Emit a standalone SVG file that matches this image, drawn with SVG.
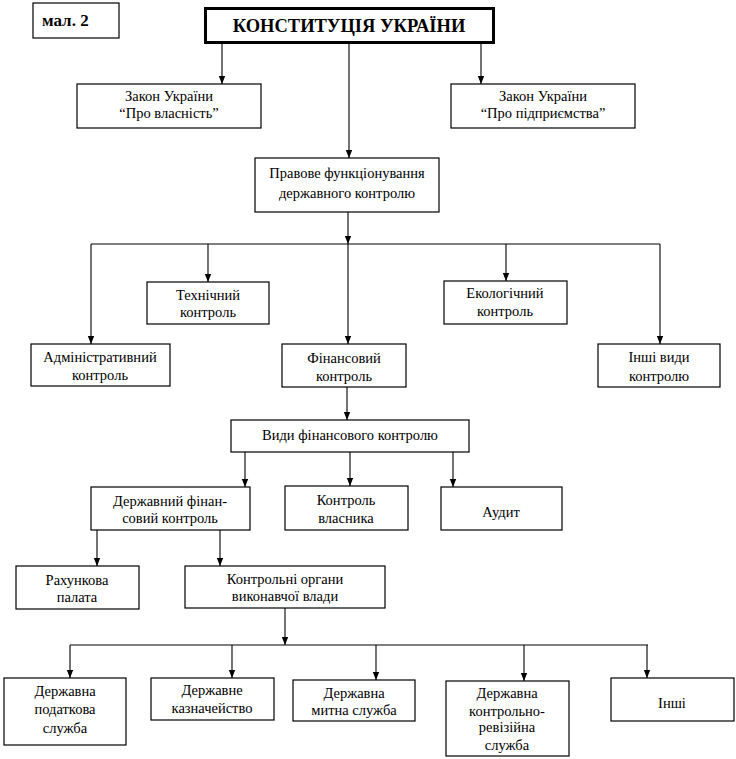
<svg xmlns="http://www.w3.org/2000/svg" width="736" height="759" viewBox="0 0 736 759">
<style>
  .b { fill: #fff; stroke: #000; stroke-width: 1.2; }
  .t { font-family: "Liberation Serif", "Times New Roman", serif; font-size: 14.5px; fill: #000; text-anchor: middle; }
  .c line { stroke: #000; stroke-width: 1.1; }
</style>
<defs>
  <marker id="ah" viewBox="0 0 8 8" refX="8" refY="4" markerWidth="8" markerHeight="8" markerUnits="userSpaceOnUse" orient="auto">
    <path d="M0,0.8 L8,4 L0,7.2 Z" fill="#000"/>
  </marker>
</defs>
<rect width="736" height="759" fill="#fff"/>

<g id="connectors" class="c">
  <line x1="222" y1="43" x2="222" y2="84" marker-end="url(#ah)"/>
  <line x1="349" y1="43" x2="349" y2="158" marker-end="url(#ah)"/>
  <line x1="481" y1="43" x2="481" y2="84" marker-end="url(#ah)"/>
  <line x1="348" y1="212" x2="348" y2="244" marker-end="url(#ah)"/>
  <line x1="91" y1="244" x2="660" y2="244"/>
  <line x1="91" y1="244" x2="91" y2="344" marker-end="url(#ah)"/>
  <line x1="208" y1="244" x2="208" y2="282" marker-end="url(#ah)"/>
  <line x1="348" y1="244" x2="348" y2="344" marker-end="url(#ah)"/>
  <line x1="506" y1="244" x2="506" y2="281" marker-end="url(#ah)"/>
  <line x1="660" y1="244" x2="660" y2="344" marker-end="url(#ah)"/>
  <line x1="347" y1="387" x2="347" y2="420" marker-end="url(#ah)"/>
  <line x1="245" y1="452" x2="245" y2="487" marker-end="url(#ah)"/>
  <line x1="350" y1="452" x2="350" y2="486" marker-end="url(#ah)"/>
  <line x1="453" y1="452" x2="453" y2="487" marker-end="url(#ah)"/>
  <line x1="97" y1="530" x2="97" y2="566" marker-end="url(#ah)"/>
  <line x1="220" y1="530" x2="220" y2="566" marker-end="url(#ah)"/>
  <line x1="285" y1="608" x2="285" y2="645" marker-end="url(#ah)"/>
  <line x1="70" y1="645" x2="648" y2="645"/>
  <line x1="70" y1="645" x2="70" y2="678" marker-end="url(#ah)"/>
  <line x1="232" y1="645" x2="232" y2="678" marker-end="url(#ah)"/>
  <line x1="376" y1="645" x2="376" y2="680" marker-end="url(#ah)"/>
  <line x1="524" y1="645" x2="524" y2="681" marker-end="url(#ah)"/>
  <line x1="647" y1="645" x2="647" y2="678" marker-end="url(#ah)"/>
</g>

<g id="label-mal">
  <rect class="b" x="33" y="3" width="86" height="35"/>
  <text x="42" y="26" style="font-family:'Liberation Serif','Times New Roman',serif;font-size:17px;font-weight:bold">мал. 2</text>
</g>
<g id="n-constitution">
  <rect x="205.5" y="8.5" width="288" height="34" fill="#fff" stroke="#000" stroke-width="3"/>
  <text class="t" x="349" y="32" style="font-size:18.5px;font-weight:bold">КОНСТИТУЦІЯ УКРАЇНИ</text>
</g>
<g id="n-zakon-vlasnist">
  <rect class="b" x="77" y="84" width="184" height="44"/>
  <text class="t" x="169" y="101">Закон України</text>
  <text class="t" x="169" y="118">“Про власність”</text>
</g>
<g id="n-zakon-pidpr">
  <rect class="b" x="451" y="84" width="184" height="44"/>
  <text class="t" x="543" y="101">Закон України</text>
  <text class="t" x="543" y="118">“Про підприємства”</text>
</g>
<g id="n-pravove">
  <rect class="b" x="255" y="158" width="184" height="54"/>
  <text class="t" x="347" y="178">Правове функціонування</text>
  <text class="t" x="347" y="198">державного контролю</text>
</g>
<g id="n-tekhnichnyi">
  <rect class="b" x="147" y="282" width="122" height="42"/>
  <text class="t" x="208" y="300">Технічний</text>
  <text class="t" x="208" y="317">контроль</text>
</g>
<g id="n-ekolohichnyi">
  <rect class="b" x="444" y="281" width="123" height="43"/>
  <text class="t" x="505" y="298">Екологічний</text>
  <text class="t" x="505" y="316">контроль</text>
</g>
<g id="n-administratyvnyi">
  <rect class="b" x="31" y="344" width="139" height="42"/>
  <text class="t" x="100" y="362">Адміністративний</text>
  <text class="t" x="100" y="380">контроль</text>
</g>
<g id="n-finansovyi">
  <rect class="b" x="282" y="344" width="124" height="43"/>
  <text class="t" x="344" y="363">Фінансовий</text>
  <text class="t" x="344" y="381">контроль</text>
</g>
<g id="n-inshi-vydy">
  <rect class="b" x="598" y="344" width="122" height="43"/>
  <text class="t" x="659" y="362">Інші види</text>
  <text class="t" x="659" y="381">контролю</text>
</g>
<g id="n-vydy-fin">
  <rect class="b" x="231" y="420" width="238" height="32"/>
  <text class="t" x="350" y="440">Види фінансового контролю</text>
</g>
<g id="n-derzh-fin">
  <rect class="b" x="91" y="487" width="159" height="43"/>
  <text class="t" x="170" y="506">Державний фінан-</text>
  <text class="t" x="170" y="523">совий контроль</text>
</g>
<g id="n-kontrol-vlasnyka">
  <rect class="b" x="285" y="486" width="123" height="44"/>
  <text class="t" x="346" y="505">Контроль</text>
  <text class="t" x="346" y="523">власника</text>
</g>
<g id="n-audyt">
  <rect class="b" x="441" y="487" width="121" height="43"/>
  <text class="t" x="501" y="517">Аудит</text>
</g>
<g id="n-rakhunkova">
  <rect class="b" x="16" y="566" width="123" height="43"/>
  <text class="t" x="77" y="585">Рахункова</text>
  <text class="t" x="77" y="602">палата</text>
</g>
<g id="n-kontrolni-orhany">
  <rect class="b" x="185" y="566" width="200" height="42"/>
  <text class="t" x="285" y="584">Контрольні органи</text>
  <text class="t" x="285" y="601">виконавчої влади</text>
</g>
<g id="n-podatkova">
  <rect class="b" x="4" y="678" width="122" height="67"/>
  <text class="t" x="65" y="696">Державна</text>
  <text class="t" x="65" y="714">податкова</text>
  <text class="t" x="65" y="733">служба</text>
</g>
<g id="n-kaznacheistvo">
  <rect class="b" x="151" y="678" width="123" height="42"/>
  <text class="t" x="212" y="695">Державне</text>
  <text class="t" x="212" y="713">казначейство</text>
</g>
<g id="n-mytna">
  <rect class="b" x="293" y="680" width="122" height="41"/>
  <text class="t" x="354" y="698">Державна</text>
  <text class="t" x="354" y="715">митна служба</text>
</g>
<g id="n-kontrolno-reviziina">
  <rect class="b" x="446" y="681" width="123" height="75"/>
  <text class="t" x="507" y="698">Державна</text>
  <text class="t" x="507" y="716">контрольно-</text>
  <text class="t" x="507" y="732">ревізійна</text>
  <text class="t" x="507" y="750">служба</text>
</g>
<g id="n-inshi">
  <rect class="b" x="611" y="678" width="123" height="43"/>
  <text class="t" x="672" y="708">Інші</text>
</g>
</svg>
